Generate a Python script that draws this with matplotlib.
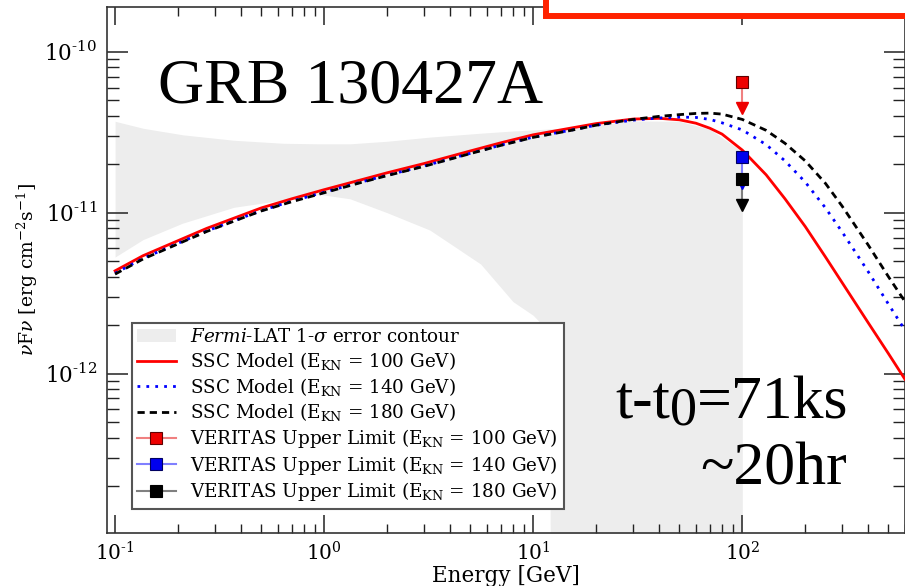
import numpy as np
import matplotlib
matplotlib.use("Agg")
import matplotlib.pyplot as plt
from matplotlib.patches import Rectangle
from matplotlib.ticker import FuncFormatter, FixedLocator, LogLocator, NullFormatter

plt.rcParams["font.family"] = ["DejaVu Serif"]
plt.rcParams["mathtext.fontset"] = "dejavuserif"

# SSC model spectra: energy [GeV] and nuFnu [erg cm^-2 s^-1]
energy = np.array([0.1, 0.136, 0.2, 0.275, 0.4, 0.5, 0.7, 1.0, 1.5, 2.0, 3.0, 5.0, 7.0,
                   10.0, 15.0, 20.0, 30.0, 40.0, 50.0, 60.0, 70.0, 80.0, 100.0, 130.0,
                   160.0, 200.0, 250.0, 300.0, 400.0, 500.0, 600.0])
ssc_100 = np.array([4.35e-12, 5.4e-12, 6.7e-12, 8.0e-12, 9.6e-12, 1.07e-11, 1.22e-11,
                    1.39e-11, 1.6e-11, 1.77e-11, 2.02e-11, 2.42e-11, 2.72e-11, 3.05e-11,
                    3.35e-11, 3.58e-11, 3.82e-11, 3.86e-11, 3.78e-11, 3.6e-11, 3.35e-11,
                    3.08e-11, 2.45e-11, 1.72e-11, 1.22e-11, 8.2e-12, 5.3e-12, 3.68e-12,
                    2.07e-12, 1.33e-12, 9.2e-13])
ssc_140 = np.array([4.2e-12, 5.2e-12, 6.45e-12, 7.7e-12, 9.25e-12, 1.03e-11, 1.18e-11,
                    1.34e-11, 1.55e-11, 1.71e-11, 1.95e-11, 2.34e-11, 2.63e-11, 2.95e-11,
                    3.25e-11, 3.5e-11, 3.76e-11, 3.88e-11, 3.93e-11, 3.91e-11, 3.8e-11,
                    3.62e-11, 3.27e-11, 2.65e-11, 2.1e-11, 1.55e-11, 1.07e-11, 7.6e-12,
                    4.3e-12, 2.7e-12, 1.86e-12])
ssc_180 = np.array([4.15e-12, 5.15e-12, 6.4e-12, 7.65e-12, 9.2e-12, 1.025e-11, 1.17e-11,
                    1.33e-11, 1.54e-11, 1.7e-11, 1.94e-11, 2.33e-11, 2.62e-11, 2.94e-11,
                    3.24e-11, 3.5e-11, 3.8e-11, 3.97e-11, 4.07e-11, 4.14e-11, 4.16e-11,
                    4.1e-11, 3.8e-11, 3.25e-11, 2.7e-11, 2.1e-11, 1.52e-11, 1.1e-11,
                    6.3e-12, 4.0e-12, 2.8e-12])

# Fermi-LAT 1-sigma butterfly
contour_energy = np.array([0.1, 0.136, 0.21, 0.37, 0.64, 0.95, 1.33, 2.0, 3.2, 5.6, 8.0,
                           10.0, 11.3, 12.0, 12.1, 15.0, 20.0, 30.0, 50.0, 70.0, 100.0])
contour_upper = np.array([3.7e-11, 3.35e-11, 3.05e-11, 2.82e-11, 2.7e-11, 2.68e-11,
                          2.68e-11, 2.78e-11, 2.95e-11, 3.12e-11, 3.22e-11, 3.27e-11,
                          3.3e-11, 3.32e-11, 3.32e-11, 3.35e-11, 3.5e-11, 3.72e-11,
                          3.7e-11, 3.3e-11, 2.4e-11])
contour_lower = np.array([5.3e-12, 6.8e-12, 8.6e-12, 1.08e-11, 1.2e-11, 1.3e-11, 1.22e-11,
                          1.0e-11, 7.8e-12, 4.8e-12, 2.8e-12, 2.3e-12, 1.95e-12, 1.5e-12,
                          1e-14, 1e-14, 1e-14, 1e-14, 1e-14, 1e-14, 1e-14])

# VERITAS upper limits at 100 GeV for each Klein-Nishina energy
ul_energy = 100.0
ul_values = [6.5e-11, 2.22e-11, 1.62e-11]
ekn_labels = ["100", "140", "180"]

# axis tick positions
x_major = [0.1, 1.0, 10.0, 100.0]
y_major = [1e-12, 1e-11, 1e-10]

ul_solid = ["#ee0000", "#0000ee", "#000000"]
ul_light = ["#f08080", "#8080ff", "#808080"]
ul_edge = ["#600000", "#000060", "#000000"]
arrow_ratio = 0.65

fig = plt.figure(figsize=(9.05, 5.86), dpi=100)
ax = fig.add_axes([107 / 905, 53 / 586, 798 / 905, 526 / 586])

fermi = ax.fill_between(contour_energy, contour_lower, contour_upper,
                        color="#ededed", lw=0, zorder=1,
                        label=r"$\it{Fermi}$-LAT 1-$\sigma$ error contour")

l100, = ax.plot(energy, ssc_100, color="#ff0000", lw=2.0, zorder=3,
                label=r"SSC Model (E$_{\mathrm{KN}}$ = 100 GeV)")
l140, = ax.plot(energy, ssc_140, color="#0000ff", lw=2.0, ls=(0, (1, 2.2)), zorder=3,
                label=r"SSC Model (E$_{\mathrm{KN}}$ = 140 GeV)")
l180, = ax.plot(energy, ssc_180, color="black", lw=2.0, ls=(0, (2.6, 1.8)), zorder=3,
                label=r"SSC Model (E$_{\mathrm{KN}}$ = 180 GeV)")

ul_handles = []
for val, lab, solid, light, edge in zip(ul_values, ekn_labels, ul_solid, ul_light, ul_edge):
    tip = val * arrow_ratio
    ax.plot([ul_energy, ul_energy], [val, tip * 1.04], color=light, lw=1.5, zorder=4)
    ax.plot([ul_energy], [tip * 1.065], marker="v", ms=9, color=solid, mec=solid,
            ls="none", zorder=5)
    h, = ax.plot([ul_energy], [val], marker="s", ms=8, color=light, lw=1.5,
                 mfc=solid, mec=edge, mew=0.8, zorder=6,
                 label=r"VERITAS Upper Limit (E$_{\mathrm{KN}}$ = %s GeV)" % lab)
    ul_handles.append(h)

ax.set_xscale("log")
ax.set_yscale("log")
ax.set_xlim(0.0915, 600)
ax.set_ylim(1.02e-13, 1.9e-10)


def pow_label(v, pos):
    e = int(round(np.log10(v)))
    if e < 0:
        return r"$10^{\text{-}%d}$" % (-e)
    return r"$10^{%d}$" % e


ax.xaxis.set_major_locator(FixedLocator(x_major))
ax.yaxis.set_major_locator(FixedLocator(y_major))
for axis in (ax.xaxis, ax.yaxis):
    axis.set_minor_locator(LogLocator(base=10, subs=np.arange(2, 10), numticks=20))
    axis.set_major_formatter(FuncFormatter(pow_label))
    axis.set_minor_formatter(NullFormatter())

ax.tick_params(which="both", direction="in", top=True, right=True, colors="#222222",
               labelcolor="black")
ax.tick_params(axis="x", which="major", length=13, width=1.1, pad=6, labelsize=14.5)
ax.tick_params(axis="x", which="minor", length=6.5, width=1.0)
ax.tick_params(axis="y", which="major", length=15, width=1.1, pad=7, labelsize=15.5)
ax.tick_params(axis="y", which="minor", length=8.5, width=1.0)
for sp in ax.spines.values():
    sp.set_linewidth(1.2)
    sp.set_color("#333333")

ax.set_xlabel("Energy [GeV]", fontsize=15.5, labelpad=0)
ax.set_ylabel(r"$\nu$F$\nu$ [erg cm$^{-2}$s$^{-1}$]", fontsize=13.5, labelpad=3)

leg = ax.legend(handles=[fermi, l100, l140, l180] + ul_handles,
                loc="lower left", bbox_to_anchor=(0.031, 0.046), borderaxespad=0,
                fontsize=13.2, fancybox=False, framealpha=1, edgecolor="#555555",
                handlelength=2.1, labelspacing=0.2, borderpad=0.3)
leg.get_frame().set_linewidth(1.5)
leg.set_zorder(7)

serif = "Liberation Serif"
ax.text(0.064, 0.819, "GRB 130427A", transform=ax.transAxes, fontsize=46,
        family=serif, va="baseline", ha="left", zorder=8)
t1 = ax.text(0.6366, 0.2186, "t-t", transform=ax.transAxes, fontsize=44.5,
             family=serif, va="baseline", ha="left", zorder=8)
t2 = ax.annotate("0", xy=(1, 0), xycoords=t1, xytext=(0, -4),
                 textcoords="offset points", fontsize=39, family=serif,
                 va="bottom", ha="left", zorder=8)
ax.annotate("=71ks", xy=(1, 0), xycoords=(t2, t1), fontsize=44.5, family=serif,
            va="bottom", ha="left", zorder=8)
ax.text(0.927, 0.0913, "~20hr", transform=ax.transAxes, fontsize=44.5,
        family=serif, va="baseline", ha="right", zorder=8)

# framed banner across the top right corner
fig.add_artist(Rectangle((546 / 905, 1 - 16 / 586), 0.6, 0.2, transform=fig.transFigure,
                         facecolor="white", edgecolor="#ff2200", lw=4.3, zorder=10,
                         clip_on=False))

fig.savefig("out.png", dpi=100)
